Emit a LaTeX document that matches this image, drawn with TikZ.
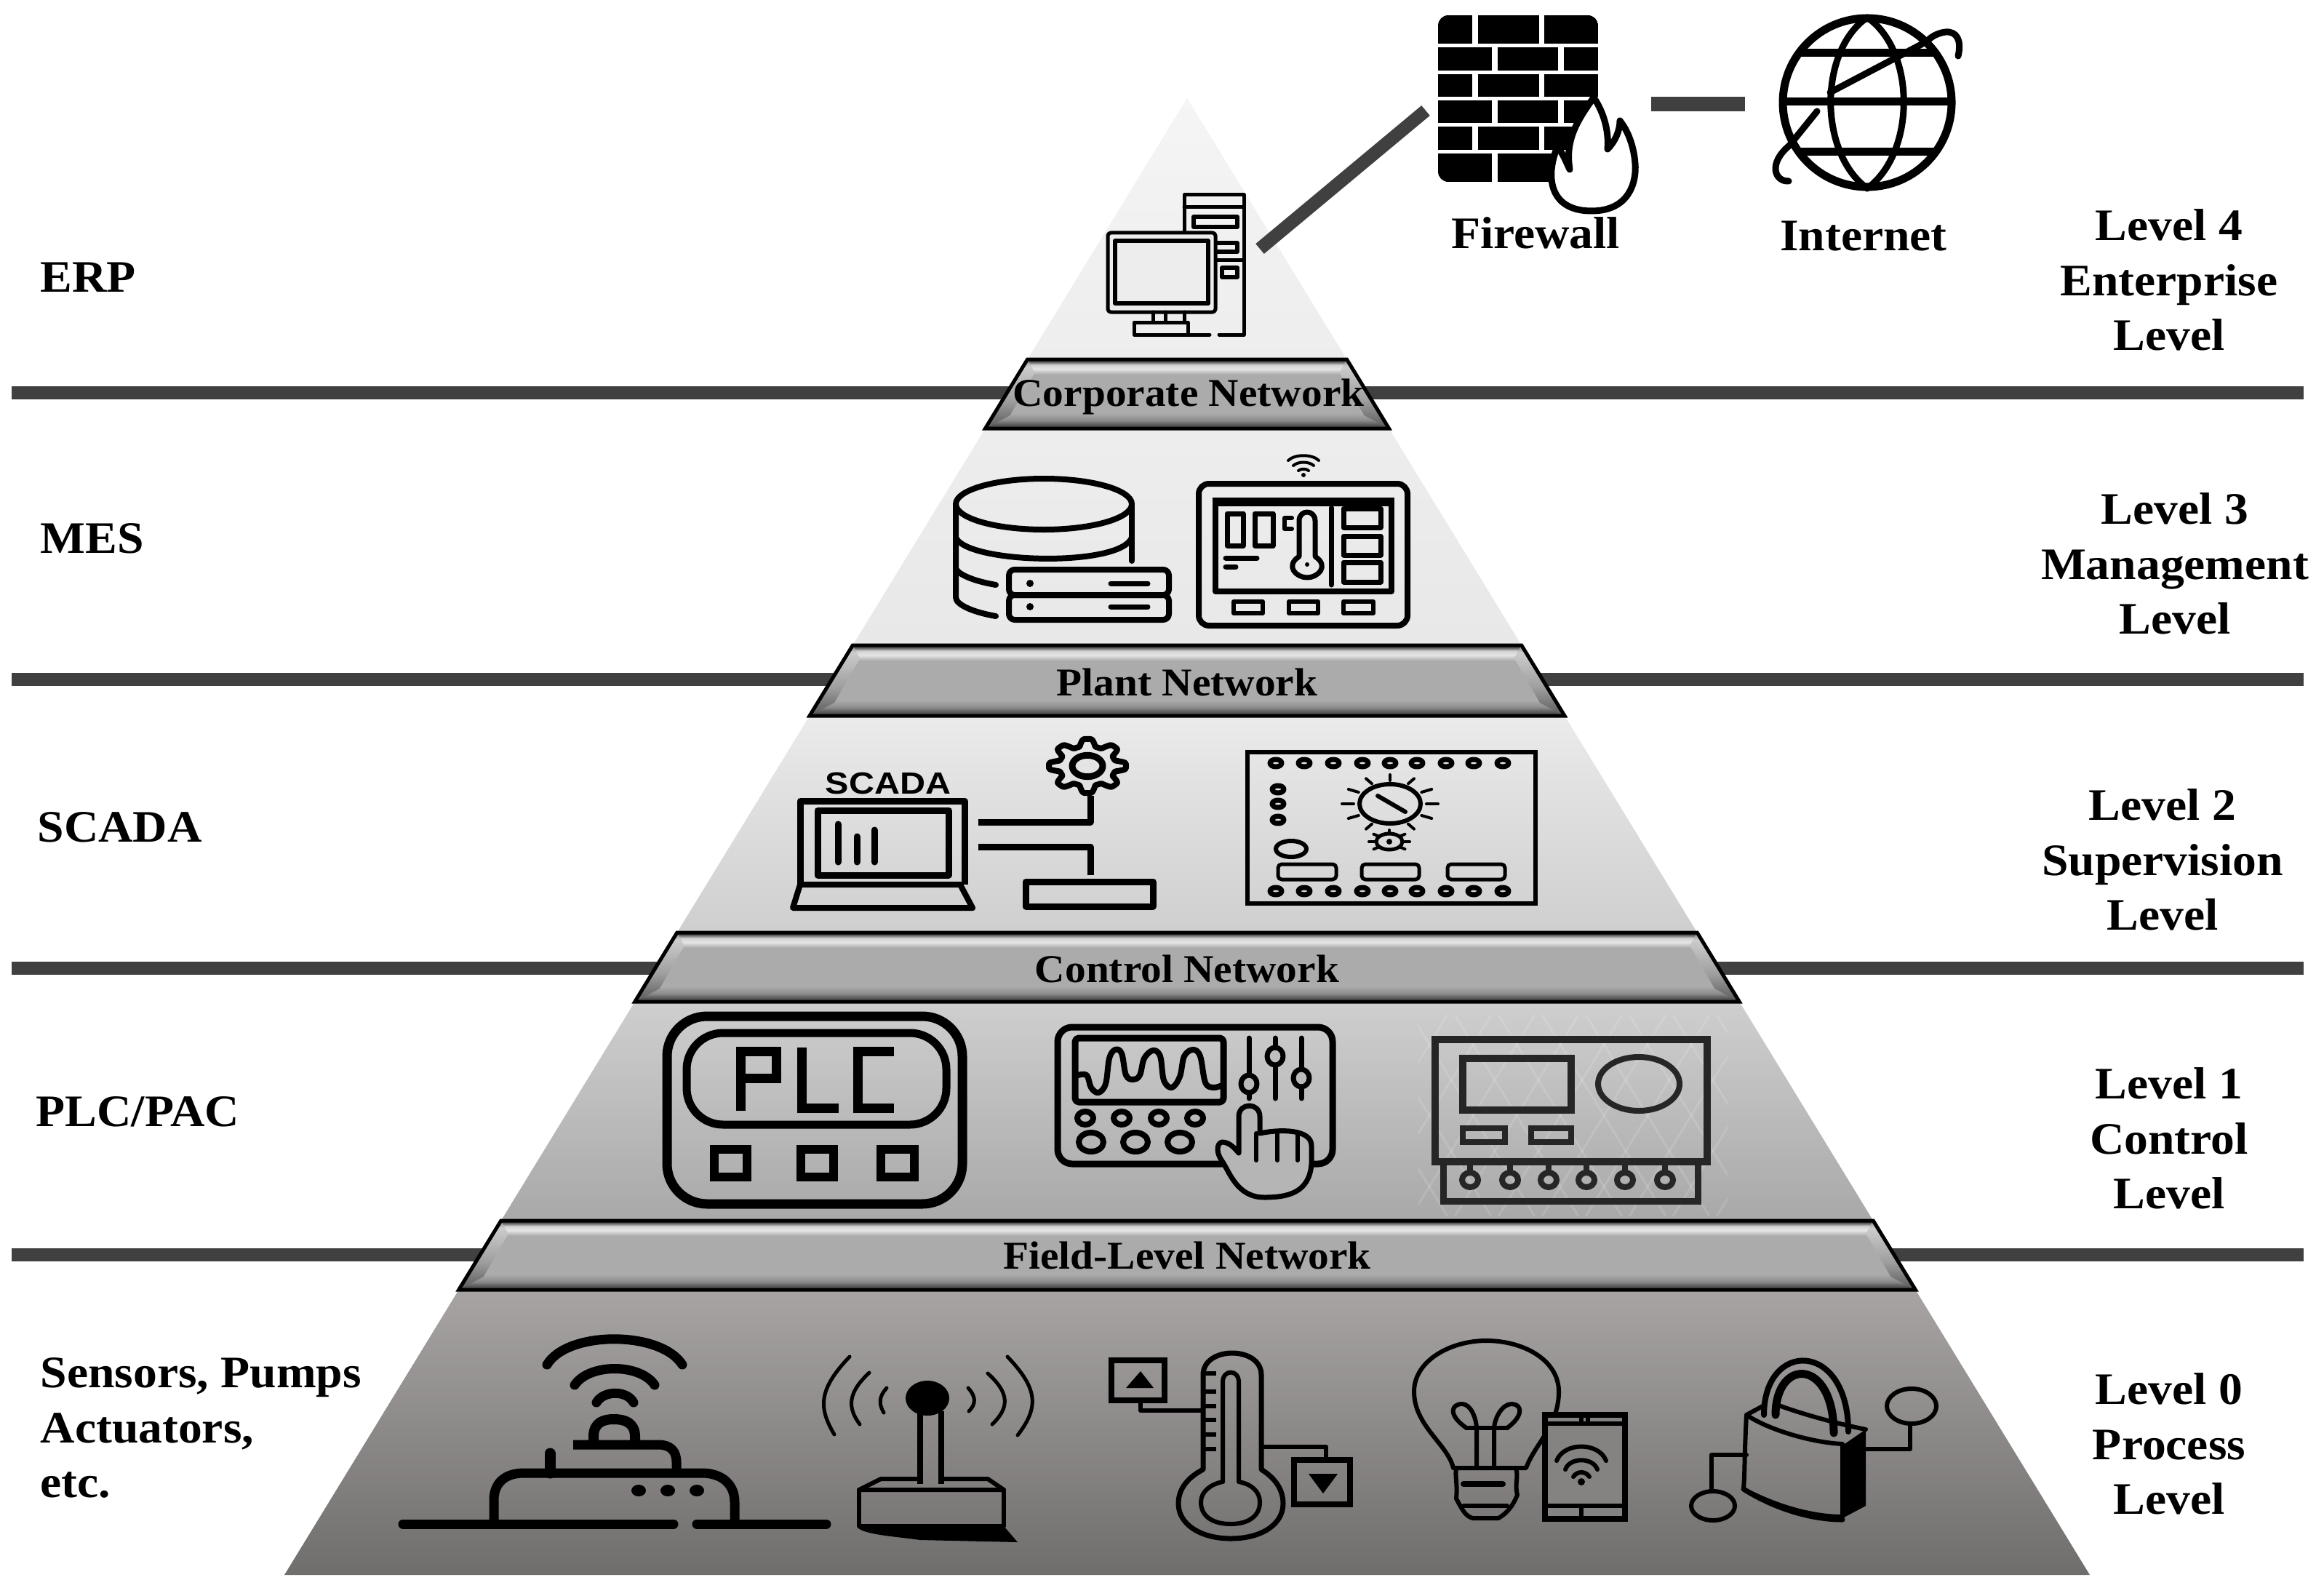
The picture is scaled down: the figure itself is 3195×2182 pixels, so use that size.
\documentclass[tikz,border=0pt]{standalone}
\usepackage{fontspec}
\setmainfont{Liberation Serif}
\newfontfamily\lblfont[FakeStretch=1.06]{Liberation Serif}
\newfontfamily\iconsf[FakeStretch=1.15]{Liberation Sans}
\pgfdeclareverticalshading{bandshade}{100bp}{
 rgb(0bp)=(.25,.25,.25);
 rgb(25bp)=(.25,.25,.25);
 rgb(28bp)=(.36,.36,.36);
 rgb(31bp)=(.55,.55,.55);
 rgb(36bp)=(.67,.67,.67);
 rgb(64bp)=(.67,.67,.67);
 rgb(66bp)=(.78,.78,.78);
 rgb(68bp)=(.90,.90,.90);
 rgb(71bp)=(.82,.82,.82);
 rgb(73bp)=(.40,.40,.40);
 rgb(75bp)=(.15,.15,.15);
 rgb(100bp)=(.15,.15,.15)}
\pgfdeclareverticalshading{bevelL}{100bp}{
 rgb(0bp)=(.35,.35,.35);
 rgb(25bp)=(.35,.35,.35);
 rgb(45bp)=(.62,.62,.62);
 rgb(70bp)=(.80,.80,.80);
 rgb(75bp)=(.50,.50,.50);
 rgb(100bp)=(.50,.50,.50)}
\definecolor{linkgray}{HTML}{404040}
\tikzset{
 lw/.style={line width=#1*0.01cm},
 ink/.style={draw=black,line cap=round,line join=round},
 hline/.style={draw=linkgray,line width=0.18cm},
 link/.style={draw=linkgray,line width=0.18cm},
 lbl/.style={font=\lblfont\bfseries\fontsize{17.6}{21.4}\selectfont,align=center,inner sep=0pt},
 leftlbl/.style={lbl,align=left,anchor=west},
 bandlbl/.style={font=\lblfont\bfseries\fontsize{15.4}{18}\selectfont,inner sep=0pt},
}
\newcommand\netband[6]{%
 \shade[shading=bandshade] (#3,#1)--(#5,#1)--(#6,#2)--(#4,#2)--cycle;
 \shade[shading=bevelL] (#3,#1)--(#3+10,#1+18)--(#4+34,#2-18)--(#4,#2)--cycle;
 \shade[shading=bevelL] (#5,#1)--(#5-10,#1+18)--(#6-34,#2-18)--(#6,#2)--cycle;
 \draw[black,lw=5,line join=miter] (#3,#1)--(#5,#1)--(#6,#2)--(#4,#2)--cycle;
}
\begin{document}
\begin{tikzpicture}[x=0.01cm,y=-0.01cm]
\useasboundingbox (0,0) rectangle (3195,2182);
\fill[white] (0,0) rectangle (3195,2182);
% ---- horizontal separators
\coordinate (s1a) at (16,540);  \coordinate (s1b) at (3167,540);
\coordinate (s2a) at (16,934);  \coordinate (s2b) at (3167,934);
\coordinate (s3a) at (16,1331); \coordinate (s3b) at (3167,1331);
\coordinate (s4a) at (16,1725); \coordinate (s4b) at (3167,1725);
\draw[hline] (s1a)--(s1b);
\draw[hline] (s2a)--(s2b);
\draw[hline] (s3a)--(s3b);
\draw[hline] (s4a)--(s4b);
% ---- pyramid
\shade[top color=black!4,bottom color=black!7] (1632,135)--(1851.5,494)--(1412.5,494)--cycle;
\shade[top color=black!7,bottom color=black!9] (1354.5,589)--(1909.5,589)--(2091.7,887)--(1172.3,887)--cycle;
\shade[top color=black!8,bottom color=black!19] (1113,984)--(2151,984)--(2333.2,1282)--(930.8,1282)--cycle;
\shade[top color=black!19,bottom color=black!34] (872.8,1377)--(2391.2,1377)--(2575.2,1678)--(688.8,1678)--cycle;
\shade[top color={rgb,255:red,167;green,164;blue,163},bottom color={rgb,255:red,112;green,110;blue,109}] (630.7,1773)--(2633.3,1773)--(2873,2165)--(391,2165)--cycle;
% ---- faint cross-hatch behind the level-1 device
\begin{scope}
\clip (1950,1395) rectangle (2375,1672);
\foreach \c in {1700,1760,...,2600}{
 \draw[white,opacity=.13,lw=3] (\c,1395)--(\c+170,1672);
 \draw[white,opacity=.13,lw=3] (\c+170,1395)--(\c,1672);}
\end{scope}
% ---- network bands
\netband{494}{589}{1412.5}{1354.5}{1851.5}{1909.5}
\netband{887}{984}{1172.3}{1113}{2091.7}{2151}
\netband{1282}{1377}{930.8}{872.8}{2333.2}{2391.2}
\netband{1678}{1773}{688.8}{630.7}{2575.2}{2633.3}
\node[bandlbl] (corp) at (1634,545) {Corporate Network};
\node[bandlbl] (plant) at (1632,938) {Plant Network};
\node[bandlbl] (ctrl) at (1632,1332) {Control Network};
\node[bandlbl] (field) at (1632,1726) {Field-Level Network};
% ---- left labels
\node[leftlbl] (erp) at (55,381) {ERP};
\node[leftlbl] (mes) at (55,740) {MES};
\node[leftlbl] (scada) at (51,1137) {SCADA};
\node[leftlbl] (plc) at (49,1528) {PLC/PAC};
\node[leftlbl] (sens) at (55,1963) {Sensors, Pumps\\Actuators,\\etc.};
% ---- right labels
\node[lbl] (lv4) at (2982,385) {Level 4\\Enterprise\\Level};
\node[lbl] (lv3) at (2990,775) {Level 3\\Management\\Level};
\node[lbl] (lv2) at (2973,1182) {Level 2\\Supervision\\Level};
\node[lbl] (lv1) at (2982,1565) {Level 1\\Control\\Level};
\node[lbl] (lv0) at (2982,1985) {Level 0\\Process\\Level};
\node[lbl] (fwl) at (2111,320) {Firewall};
\node[lbl] (inl) at (2562,325) {Internet};
% ---- links
\coordinate (pcport) at (1732,342);
\coordinate (fwport) at (1960,152);
\coordinate (fwout) at (2270,143);
\coordinate (netin) at (2399,143);
\draw[link] (pcport)--(fwport);
\draw[draw=linkgray,line width=0.19cm] (fwout)--(netin);
% ---- firewall
\begin{scope}
\clip[rounded corners=0.14cm] (1977,21) rectangle (2197,250);
\foreach \a/\b in {21/60,102/133,174/206}{
 \fill (1977,\a) rectangle (2024,\b);
 \fill (2032,\a) rectangle (2116,\b);
 \fill (2123,\a) rectangle (2197,\b);}
\foreach \a/\b in {65/97,138/169,211/250}{
 \fill (1977,\a) rectangle (2051,\b);
 \fill (2059,\a) rectangle (2142,\b);
 \fill (2150,\a) rectangle (2197,\b);}
\end{scope}
\draw[ink,lw=9,fill=white] (2191,134) .. controls (2165,170) and (2152,195) .. (2158,233)
 .. controls (2152,220) and (2148,210) .. (2141,202)
 .. controls (2125,240) and (2128,290) .. (2188,290)
 .. controls (2240,290) and (2250,250) .. (2248,225)
 .. controls (2246,200) and (2238,180) .. (2227,166)
 .. controls (2227,180) and (2220,195) .. (2210,205)
 .. controls (2212,180) and (2205,155) .. (2191,134) -- cycle;
% ---- globe
\begin{scope}[ink,lw=11]
\draw (2567,141) ellipse [x radius=116,y radius=116];
\draw[lw=9] (2567,24) .. controls (2500,70) and (2500,210) .. (2567,259);
\draw[lw=9] (2567,24) .. controls (2634,70) and (2634,210) .. (2567,259);
\draw[line cap=butt] (2476,73)--(2658,73);
\draw[line cap=butt] (2450,140)--(2684,140);
\draw[line cap=butt] (2476,209)--(2658,209);
\draw[lw=9] (2692,77) .. controls (2697,55) and (2690,43) .. (2675,44) .. controls (2665,45) and (2655,50) .. (2649,57) -- (2516,127);
\draw[lw=9] (2498,153) -- (2460,200) .. controls (2430,225) and (2440,250) .. (2459,249);
\end{scope}
% ---- computer
\begin{scope}[ink,lw=5]
\draw (1676,460)--(1710,460)--(1710,268)--(1628,268)--(1628,322);
\draw (1628,285)--(1710,285);
\draw[lw=6] (1641,298) rectangle (1701,312);
\draw[lw=6] (1671,334)--(1701,334)--(1701,346)--(1671,346);
\draw (1671,358)--(1710,358);
\draw[lw=6] (1680,368) rectangle (1701,381);
\draw[rounded corners=0.04cm,fill=black!7] (1523,320) rectangle (1671,429);
\draw[lw=6] (1533,331) rectangle (1661,417);
\draw (1585,429)--(1585,443) (1602,429)--(1602,443) (1628,429)--(1628,443);
\draw (1663,460)--(1559,460)--(1559,443)--(1633,443)--(1633,460);
\end{scope}
% ---- database
\begin{scope}[ink,lw=8]
\draw (1435,693) ellipse [x radius=121,y radius=35];
\draw (1314,693)--(1314,821) .. controls (1314,832) and (1340,842) .. (1369,847);
\draw (1556,693)--(1556,771);
\draw (1314,739) .. controls (1330,775) and (1540,780) .. (1556,739);
\draw (1314,782) .. controls (1320,792) and (1345,800) .. (1369,804);
\draw[rounded corners=0.08cm] (1387,783) rectangle (1607,818);
\draw[rounded corners=0.08cm] (1387,818) rectangle (1607,852);
\fill (1416,802) circle [radius=5];
\fill (1416,834) circle [radius=5];
\draw[lw=7] (1527,802)--(1578,802);
\draw[lw=7] (1527,834)--(1578,834);
\end{scope}
% ---- wifi panel
\begin{scope}[ink,lw=8]
\draw[rounded corners=0.14cm] (1648,665) rectangle (1935,860);
\draw (1671,690) rectangle (1913,813);
\draw[lw=12,line cap=butt] (1667,690)--(1917,690);
\draw[lw=7] (1687,706) rectangle (1709,750);
\draw[lw=7] (1725,706) rectangle (1750,750);
\draw[lw=6] (1776,712)--(1766,712)--(1766,727)--(1776,727);
\draw[lw=7] (1786,765)--(1786,716) .. controls (1786,700) and (1808,700) .. (1808,716) -- (1808,765)
 .. controls (1828,778) and (1812,794) .. (1797,794) .. controls (1782,794) and (1766,778) .. (1786,765) -- cycle;
\fill (1797,776) circle [radius=3];
\draw[lw=7] (1830,698)--(1830,804);
\draw[lw=7] (1847,699) rectangle (1898,725);
\draw[lw=7] (1847,737) rectangle (1898,763);
\draw[lw=7] (1847,773) rectangle (1898,800);
\draw[lw=7] (1685,767)--(1728,767);
\draw[lw=7] (1685,779)--(1699,779);
\draw[lw=6] (1696,827) rectangle (1736,843);
\draw[lw=6] (1772,827) rectangle (1812,843);
\draw[lw=6] (1847,827) rectangle (1888,843);
\draw[lw=4] (1771,633) .. controls (1780,624) and (1804,624) .. (1813,633);
\draw[lw=4] (1778,640) .. controls (1785,634) and (1799,634) .. (1806,640);
\draw[lw=4] (1785,647) .. controls (1788,644) and (1796,644) .. (1799,647);
\fill (1792,653) circle [radius=3];
\end{scope}
% ---- SCADA laptop
\node[font=\iconsf\bfseries\fontsize{12}{14}\selectfont,inner sep=0pt] (scadaicon) at (1221,1077) {SCADA};
\begin{scope}[ink,lw=9,line cap=butt]
\draw (1100,1216)--(1100,1101)--(1326,1101)--(1326,1216);
\draw[lw=9] (1124,1114) rectangle (1304,1203);
\draw[line cap=round] (1152,1133)--(1152,1185);
\draw[line cap=round] (1178,1150)--(1178,1185);
\draw[line cap=round] (1202,1141)--(1202,1185);
\draw[lw=8] (1100,1216)--(1320,1216)--(1337,1248)--(1090,1248)--cycle;
\draw (1345,1130)--(1499,1130)--(1499,1094);
\draw (1345,1164)--(1499,1164)--(1499,1203);
\draw[lw=9] (1410,1212) rectangle (1585,1246);
\begin{scope}[shift={(1495,1053)},yscale=0.7,lw=8]
\draw[line join=round] plot[domain=0:360,samples=145,smooth] (\x:{46+7*max(min(1.6*cos(8*\x),1),-1)}) -- cycle;
\draw[lw=9] (0,0) circle [radius=21];
\end{scope}
\end{scope}
% ---- level-2 board
\begin{scope}[ink,lw=6]
\draw[line join=miter] (1715,1034) rectangle (2111,1242);
\foreach \c in {1754,1793,1833,1873,1911,1948,1988,2026,2066}{
 \draw[lw=7] (\c,1049) ellipse [x radius=8,y radius=5];
 \draw[lw=7] (\c,1225) ellipse [x radius=8,y radius=5];}
\foreach \c in {1085,1105,1127}{\draw[lw=7] (1757,\c) ellipse [x radius=8,y radius=5];}
\draw (1911,1105) ellipse [x radius=42,y radius=27];
\draw (1894,1094)--(1932,1116);
\foreach \a in {0,30,60,120,150,180,210,240,270,300,330}{
 \draw[lw=4] ({1911+50*cos(\a)},{1105+32*sin(\a)})--({1911+66*cos(\a)},{1105+40*sin(\a)});}
\draw[lw=5] (1910,1157) ellipse [x radius=18,y radius=11];
\fill (1910,1157) circle [radius=4];
\foreach \a in {0,40,140,180,220,270,320}{
 \draw[lw=4] ({1910+20*cos(\a)},{1157+12*sin(\a)})--({1910+28*cos(\a)},{1157+16*sin(\a)});}
\draw[lw=6] (1775,1167) ellipse [x radius=21,y radius=11];
\draw[lw=5,rounded corners=0.05cm] (1757,1188) rectangle (1837,1209);
\draw[lw=5,rounded corners=0.05cm] (1872,1188) rectangle (1951,1209);
\draw[lw=5,rounded corners=0.05cm] (1990,1188) rectangle (2069,1209);
\end{scope}
% ---- PLC panel
\begin{scope}[ink,lw=13]
\draw[rounded corners=0.55cm] (917,1397) rectangle (1323,1655);
\draw[rounded corners=0.5cm,lw=11] (944,1420) rectangle (1301,1546);
\draw[lw=13,line cap=butt,line join=miter] (1018,1527)--(1018,1445)--(1067,1445)--(1067,1482)--(1018,1482);
\draw[lw=13,line cap=butt,line join=miter] (1102,1440)--(1102,1523)--(1153,1523);
\draw[lw=13,line cap=butt,line join=miter] (1229,1445)--(1179,1445)--(1179,1523)--(1229,1523);
\draw[lw=12,line join=miter] (982,1580) rectangle (1027,1618);
\draw[lw=12,line join=miter] (1101,1580) rectangle (1146,1618);
\draw[lw=12,line join=miter] (1211,1580) rectangle (1257,1618);
\end{scope}
% ---- oscilloscope panel
\begin{scope}[ink,lw=9]
\draw[rounded corners=0.2cm] (1454,1412) rectangle (1832,1600);
\draw[rounded corners=0.05cm] (1478,1427) rectangle (1682,1515);
\draw[lw=8] plot[smooth,tension=.6] coordinates {(1482,1478) (1494,1478) (1500,1495) (1510,1502) (1520,1490) (1525,1455) (1533,1443) (1542,1448) (1548,1478) (1558,1484) (1567,1478) (1573,1455) (1585,1444) (1595,1452) (1600,1485) (1611,1495) (1622,1480) (1628,1452) (1640,1443) (1650,1452) (1657,1488) (1668,1495) (1680,1492)};
\draw[lw=7] (1717,1427)--(1717,1510) (1753,1427)--(1753,1510) (1789,1427)--(1789,1510);
\draw[lw=7,fill=black!27] (1717,1490) ellipse [x radius=11,y radius=12];
\draw[lw=7,fill=black!25] (1753,1452) ellipse [x radius=11,y radius=12];
\draw[lw=7,fill=black!27] (1789,1482) ellipse [x radius=11,y radius=12];
\foreach \c in {1492,1542,1593,1643}{\draw[lw=8] (\c,1537) ellipse [x radius=11,y radius=9];}
\foreach \c in {1500,1561,1622}{\draw[lw=8] (\c,1570) ellipse [x radius=17,y radius=13];}
\draw[lw=7,fill=black!29] (1703,1585)--(1703,1535) .. controls (1703,1515) and (1732,1515) .. (1732,1535) -- (1732,1558)
 .. controls (1760,1552) and (1803,1552) .. (1803,1575) -- (1803,1600)
 .. controls (1800,1640) and (1770,1646) .. (1738,1646) .. controls (1700,1646) and (1690,1610) .. (1680,1596)
 .. controls (1672,1585) and (1672,1572) .. (1680,1570) .. controls (1690,1570) and (1697,1578) .. (1703,1585) -- cycle;
\draw[lw=6] (1727,1558)--(1727,1595) (1756,1558)--(1756,1595) (1784,1560)--(1784,1595);
\end{scope}
% ---- level-1 device
\begin{scope}[ink,lw=8,line join=miter,draw=black!85]
\draw[lw=10] (1973,1429) rectangle (2347,1597);
\draw[lw=10] (2011,1455) rectangle (2160,1526);
\draw (2253,1490) ellipse [x radius=56,y radius=37];
\draw (2011,1551) rectangle (2069,1570);
\draw (2105,1551) rectangle (2160,1570);
\draw[lw=9] (1984,1597)--(1984,1651)--(2334,1651)--(2334,1597);
\foreach \c in {2021,2076,2129,2181,2234,2289}{
 \draw (\c,1597)--(\c,1611);
 \draw[lw=8] (\c,1622) ellipse [x radius=11,y radius=10];}
\end{scope}
% ---- router
\begin{scope}[ink,lw=13]
\draw (554,2095)--(926,2095);
\draw (958,2095)--(1136,2095);
\draw[line cap=butt] (679,2095)--(679,2062) .. controls (679,2038) and (695,2025) .. (720,2025) -- (965,2025) .. controls (992,2025) and (1010,2040) .. (1010,2065) -- (1010,2095);
\fill (878,2049) ellipse [x radius=10,y radius=8];
\fill (918,2049) ellipse [x radius=10,y radius=8];
\fill (958,2049) ellipse [x radius=10,y radius=8];
\draw[lw=15] (756,1998)--(756,2025);
\draw[line cap=butt] (788,1986)--(905,1986) .. controls (922,1986) and (930,1995) .. (930,2010) -- (930,2025);
\draw[lw=14,line cap=butt] (816,1986)--(816,1975) .. controls (816,1955) and (830,1951) .. (844,1951) .. controls (858,1951) and (873,1955) .. (873,1975) -- (873,1986);
\draw (752,1876) .. controls (780,1829) and (908,1829) .. (938,1876);
\draw (790,1904) .. controls (810,1874) and (880,1874) .. (900,1904);
\draw (820,1928) .. controls (830,1911) and (862,1911) .. (871,1928);
\end{scope}
% ---- antenna beacon
\begin{scope}[ink,lw=5]
\fill (1275,1922) ellipse [x radius=30,y radius=24];
\draw[lw=8,line cap=butt] (1265,1940)--(1265,2040);
\draw[lw=8,line cap=butt] (1294,1940)--(1294,2040);
\draw[lw=6] (1265,2033)--(1211,2033)--(1181,2048)--(1380,2048)--(1358,2033)--(1294,2033);
\draw[lw=6] (1181,2048)--(1181,2098)--(1380,2098)--(1380,2048);
\fill (1179,2098)--(1380,2098)--(1399,2120)--(1265,2117) .. controls (1230,2112) and (1190,2110) .. (1179,2100)--cycle;
\draw (1168,1865) .. controls (1125,1910) and (1125,1935) .. (1147,1972);
\draw (1195,1887) .. controls (1165,1915) and (1165,1935) .. (1182,1958);
\draw (1219,1908) .. controls (1208,1920) and (1208,1930) .. (1215,1942);
\draw (1385,1865) .. controls (1428,1910) and (1428,1935) .. (1399,1973);
\draw (1358,1888) .. controls (1388,1915) and (1388,1935) .. (1364,1958);
\draw (1331,1908) .. controls (1342,1920) and (1342,1930) .. (1332,1940);
\end{scope}
% ---- thermometer
\begin{scope}[ink,lw=6]
\draw[lw=8,line join=miter] (1528,1870) rectangle (1601,1925);
\fill (1568,1885)--(1548,1908)--(1586,1908)--cycle;
\draw (1568,1925)--(1568,1939)--(1654,1939);
\draw[lw=7] (1654,2020)--(1654,1890) .. controls (1654,1850) and (1734,1850) .. (1734,1890) -- (1734,2020)
 .. controls (1750,2030) and (1764,2045) .. (1764,2067) .. controls (1764,2095) and (1735,2115) .. (1692,2115)
 .. controls (1650,2115) and (1620,2095) .. (1620,2067) .. controls (1620,2045) and (1635,2030) .. (1654,2020) -- cycle;
\draw (1681,2037)--(1681,1900) .. controls (1681,1882) and (1703,1882) .. (1703,1900) -- (1703,2037)
 .. controls (1720,2040) and (1732,2050) .. (1732,2065) .. controls (1732,2085) and (1715,2095) .. (1692,2095)
 .. controls (1668,2095) and (1651,2085) .. (1651,2065) .. controls (1651,2050) and (1665,2040) .. (1681,2037) -- cycle;
\foreach \c in {1888,1913,1933,1952,1972,1992}{\draw[line cap=butt] (1656,\c)--(1672,\c);}
\draw (1734,1989)--(1823,1989)--(1823,2007);
\draw[lw=8,line join=miter] (1779,2007) rectangle (1856,2068);
\fill (1799,2026)--(1839,2026)--(1819,2053)--cycle;
\end{scope}
% ---- bulb and phone
\begin{scope}[ink,lw=6]
\draw (1998,2018) .. controls (1990,1985) and (1944,1960) .. (1944,1913) .. controls (1944,1870) and (1995,1843) .. (2043,1843) .. controls (2095,1843) and (2143,1870) .. (2143,1913)
 .. controls (2143,1960) and (2110,1985) .. (2098,2018) -- cycle;
\draw (2016,1963) .. controls (1990,1945) and (1995,1930) .. (2010,1930) .. controls (2022,1930) and (2030,1950) .. (2030,1965) -- (2030,2018);
\draw (2072,1963) .. controls (2096,1945) and (2092,1930) .. (2078,1930) .. controls (2065,1930) and (2054,1950) .. (2054,1965) -- (2054,2018);
\draw (2016,1963)--(2072,1963);
\draw (2002,2018) .. controls (2000,2030) and (2004,2040) .. (2002,2060) .. controls (2010,2075) and (2015,2085) .. (2025,2087) -- (2060,2087) .. controls (2072,2080) and (2080,2070) .. (2086,2055) .. controls (2082,2040) and (2088,2030) .. (2084,2018);
\draw[lw=8] (2012,2040)--(2066,2040);
\draw (2012,2070)--(2072,2070);
\draw[lw=8,fill={rgb,255:red,133;green,131;blue,130},line join=miter] (2124,1945) rectangle (2234,2088);
\draw (2124,1957)--(2234,1957);
\draw (2124,2070)--(2234,2070);
\draw (2174,1947)--(2174,1957) (2183,1947)--(2183,1957) (2174,2070)--(2174,2084);
\draw (2140,2008) .. controls (2150,1982) and (2198,1982) .. (2208,2008);
\draw (2152,2020) .. controls (2158,2003) and (2190,2003) .. (2196,2020);
\draw (2163,2030) .. controls (2168,2022) and (2180,2022) .. (2185,2030);
\fill (2174,2037) circle [radius=5];
\end{scope}
% ---- lock
\begin{scope}[ink,lw=6]
\draw (2401,1945) .. controls (2398,2000) and (2399,2020) .. (2397,2047) .. controls (2440,2070) and (2490,2085) .. (2533,2085) -- (2533,1985) .. controls (2490,1983) and (2430,1965) .. (2401,1945) -- cycle;
\fill (2533,1987)--(2565,1965)--(2565,2070)--(2533,2087)--cycle;
\draw (2401,1945)--(2425,1932);
\draw (2440,1930) .. controls (2480,1945) and (2530,1958) .. (2565,1965);
\draw[lw=8] (2425,1945) .. controls (2425,1842) and (2541,1842) .. (2541,1968);
\draw[lw=11] (2441,1945) .. controls (2441,1866) and (2521,1866) .. (2521,1970);
\draw[lw=7] (2397,2047) .. controls (2440,2074) and (2490,2089) .. (2533,2089);
\draw (2401,2000)--(2353,2000)--(2353,2050);
\draw (2355,2070) ellipse [x radius=30,y radius=20];
\draw (2565,1992)--(2626,1992)--(2626,1957);
\draw (2628,1933) ellipse [x radius=34,y radius=24];
\end{scope}
\end{tikzpicture}
\end{document}
